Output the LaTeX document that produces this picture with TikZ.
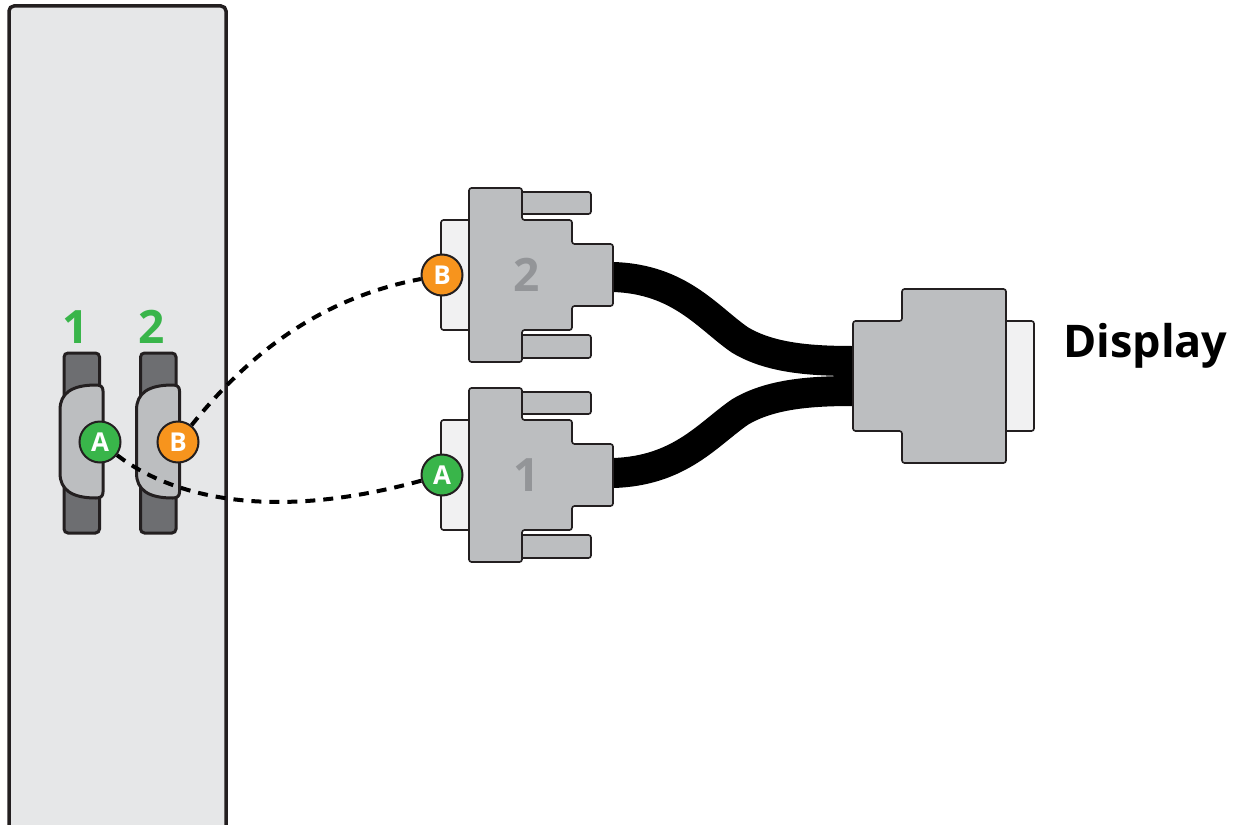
\documentclass[tikz,border=0pt]{standalone}
\usepackage{fontspec}
\setmainfont{Open Sans}[BoldFont={Open Sans Bold}]
\definecolor{panelfill}{HTML}{E6E7E8}
\definecolor{hoodgray}{HTML}{BCBEC0}
\definecolor{bargray}{HTML}{6D6E71}
\definecolor{tabwhite}{HTML}{F1F1F2}
\definecolor{inkline}{HTML}{231F20}
\definecolor{digitgray}{HTML}{939598}
\definecolor{portgreen}{HTML}{39B54A}
\definecolor{portorange}{HTML}{F7941D}
\tikzset{
  panelbox/.style={draw=inkline,line width=3.5pt,fill=panelfill,rounded corners=5pt},
  barshape/.style={draw=inkline,line width=3pt,fill=bargray,rounded corners=4pt},
  hoodshape/.style={draw=inkline,line width=3pt,fill=hoodgray,line join=round},
  connpart/.style={draw=inkline,line width=1.6pt,fill=hoodgray,rounded corners=2.5pt},
  conntab/.style={draw=inkline,line width=1.6pt,fill=tabwhite,rounded corners=2.5pt},
  cable/.style={draw=black,line width=30pt,line cap=butt},
  badge/.style={circle,draw=inkline,line width=2pt,minimum size=41pt,inner sep=0pt,text=white,font=\fontsize{26}{26}\selectfont\bfseries},
  dashlink/.style={draw=black,line width=4pt,dash pattern=on 10pt off 8pt},
  greendigit/.style={text=portgreen,font=\fontsize{46}{46}\selectfont\bfseries,inner sep=0pt},
  graydigit/.style={text=digitgray,font=\fontsize{46}{46}\selectfont\bfseries,inner sep=0pt},
  titletext/.style={text=black,font=\fontsize{45}{45}\selectfont\bfseries,inner sep=0pt}
}
\newcommand{\plugbody}[1]{%
  \begin{scope}[yshift=#1]
    \draw[conntab] (469,220) -- (441,220) -- (441,330) -- (469,330);
    \draw[connpart] (515,192) -- (591,192) -- (591,214) -- (515,214) -- cycle;
    \draw[connpart] (515,335) -- (591,335) -- (591,358) -- (515,358) -- cycle;
    \draw[connpart] (469,188) -- (522,188) -- (522,220) -- (572,220) -- (572,244) -- (613,244)
      -- (613,306) -- (572,306) -- (572,330) -- (522,330) -- (522,362) -- (469,362) -- cycle;
  \end{scope}}
\newcommand{\porthood}[1]{%
  \begin{scope}[xshift=#1]
    \draw[barshape] (64,353) rectangle (99.5,533);
    \draw[hoodshape] (60,410) .. controls (60,393) and (72,385) .. (96,385)
      .. controls (101,385) and (103,387) .. (103,391) -- (103,492)
      .. controls (103,496) and (101,498) .. (96,498)
      .. controls (72,498) and (60,490) .. (60,473) -- cycle;
  \end{scope}}
\begin{document}
\begin{tikzpicture}[x=1pt,y=-1pt]
\useasboundingbox (0,0) rectangle (1238,824);
\begin{scope}
\clip (0,0) rectangle (1238,824);
\draw[panelbox] (9,6) rectangle (226,832);
\end{scope}
% ports on the panel
\porthood{0pt}
\porthood{76.5pt}
\node[greendigit] (numone) at (76,327) {1};
\node[greendigit] (numtwo) at (152,327) {2};
% cables
\coordinate (cabletopstart) at (613,277);
\coordinate (cabletopend) at (853,361);
\coordinate (cablebotstart) at (613,473);
\coordinate (cablebotend) at (853,391);
\draw[cable] (cabletopstart) .. controls (680,279) and (708,318) .. (740,340)
  .. controls (770,358) and (810,361) .. (cabletopend);
\draw[cable] (cablebotstart) .. controls (680,471) and (708,434) .. (740,412)
  .. controls (770,394) and (810,391) .. (cablebotend);
% plugs
\plugbody{0pt}
\plugbody{-200pt}
\node[graydigit] (plugtwo) at (527,275) {2};
\node[graydigit] (plugone) at (527,475) {1};
% display connector
\draw[conntab] (1006,321) -- (1034,321) -- (1034,431) -- (1006,431);
\draw[connpart] (853,321) -- (902,321) -- (902,289) -- (1006,289) -- (1006,463)
  -- (902,463) -- (902,431) -- (853,431) -- cycle;
\node[titletext,anchor=west] (displaylabel) at (1063,346) {Display};
% badges
\node[badge,fill=portgreen] (pa) at (100,442) {A};
\node[badge,fill=portorange] (pb) at (178,442) {B};
\node[badge,fill=portorange] (cb) at (442,275) {B};
\node[badge,fill=portgreen] (ca) at (442,475) {A};
% dashed links
\draw[dashlink] (pa) .. controls (165,492) and (260,525) .. (ca);
\draw[dashlink] (pb) .. controls (240,365) and (310,300) .. (cb);
\end{tikzpicture}
\end{document}
